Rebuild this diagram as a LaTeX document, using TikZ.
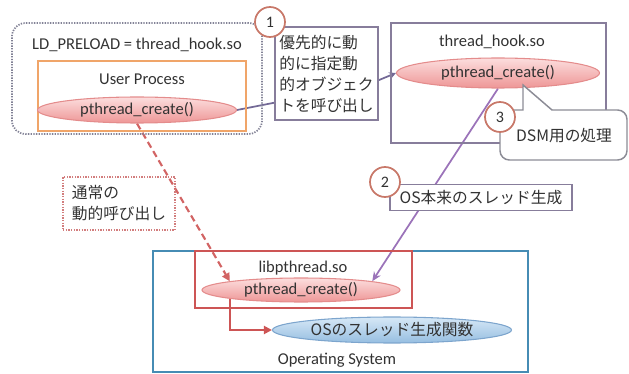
\documentclass[tikz,border=0pt]{standalone}
\usepackage{fontspec}
\setmainfont{Carlito}
\newfontfamily\jp{Noto Sans CJK JP}
\usetikzlibrary{fit,backgrounds,arrows.meta,calc,shapes.geometric}

\definecolor{txt}{RGB}{50,50,50}
\definecolor{dotgray}{RGB}{130,130,150}
\definecolor{orangeb}{RGB}{240,165,105}
\definecolor{purpgray}{RGB}{135,125,155}
\definecolor{pinkline}{RGB}{228,140,140}
\definecolor{pinktop}{RGB}{252,222,222}
\definecolor{pinkbot}{RGB}{238,150,150}
\definecolor{circc}{RGB}{200,120,105}
\definecolor{linkc}{RGB}{115,105,150}
\definecolor{purpl}{RGB}{155,115,185}
\definecolor{reddash}{RGB}{210,100,100}
\definecolor{redbox}{RGB}{205,85,85}
\definecolor{bluebox}{RGB}{70,140,180}
\definecolor{blueline}{RGB}{125,165,205}
\definecolor{bluetop}{RGB}{215,232,246}
\definecolor{bluebot}{RGB}{150,190,225}
\definecolor{callg}{RGB}{140,140,150}
\definecolor{dotred}{RGB}{210,125,125}

\begin{document}
\begin{tikzpicture}[x=0.75pt,y=-0.75pt,
  lat/.style={font=\fontsize{12.4}{15}\selectfont, text=txt},
  jps/.style={font=\jp\fontsize{11.8}{15.75}\selectfont, text=txt},
  fitbox/.style={inner sep=0pt, line width=1.1pt},
  pell/.style={ellipse, draw=pinkline, line width=0.8pt, top color=pinktop, bottom color=pinkbot, inner sep=0pt, lat},
  bell/.style={ellipse, draw=blueline, line width=0.8pt, top color=bluetop, bottom color=bluebot, inner sep=0pt, jps},
  numc/.style={circle, draw=circc, line width=1.3pt, fill=white, minimum size=22.5pt, inner sep=0pt, font=\fontsize{12}{12}\selectfont, text=txt},
  tbox/.style={draw=purpgray, line width=1.1pt, fill=white, inner sep=0pt, jps},
  linkline/.style={draw=linkc, line width=1.3pt},
  purpline/.style={draw=purpl, line width=1.3pt},
  dashline/.style={draw=reddash, line width=1.6pt, dash pattern=on 5pt off 3pt},
  redline/.style={draw=redbox, line width=1.5pt}
]
\useasboundingbox (0,0) rectangle (629,374);

% upper left group
\node[fitbox, draw=dotgray, rounded corners=10pt, line width=1.3pt, dash pattern=on 1pt off 1pt, fit={(12,23) (262,134)}] (outer) {};
\node[lat] (ld) at (137,45) {LD\_PRELOAD = thread\_hook.so};
\node[fitbox, draw=orangeb, fit={(38,61) (246,131)}] (ubox) {};
\node[lat] (utext) at (142,79) {User Process};
\node[pell, minimum width=149.25pt, minimum height=19.5pt] (uell) at (137,110) {pthread\_create()};

% label box 1
\node[tbox, minimum width=77.25pt, minimum height=69.75pt, align=left] (box1) at (326.5,73.5) {優先的に動\\的に指定動\\的オブジェク\\トを呼び出し};

% thread_hook.so
\node[fitbox, draw=purpgray, fit={(391,23) (606,143)}] (hbox) {};
\node[lat] (htext) at (492,42) {thread\_hook.so};
\node[pell, minimum width=152.25pt, minimum height=22.5pt] (hell) at (498,73) {pthread\_create()};

% callout
\draw[draw=callg, line width=1.1pt, fill=white]
  (500,135) [rounded corners=7pt] -- (500,110) [sharp corners] -- (523,110) -- (523,85) -- (552,110)
  [rounded corners=7pt] -- (627,110) -- (627,160) -- (500,160) -- cycle;
\node[jps] (dsm) at (564,136) {DSM用の処理};

% label box 2
\node[tbox, minimum width=136.5pt, minimum height=19.5pt] (box2) at (481,197.5) {OS本来のスレッド生成};

% normal call box
\node[draw=dotred, line width=1.2pt, dash pattern=on 1pt off 1pt, inner sep=0pt, jps, align=left, minimum width=84pt, minimum height=39.75pt] (tsj) at (119,203.5) {通常の\\動的呼び出し};

% operating system
\node[fitbox, draw=bluebox, line width=1.3pt, fit={(153,251) (528,372)}] (osbox) {};
\node[fitbox, draw=redbox, line width=1.3pt, fit={(195,251) (412,308)}] (libbox) {};
\node[lat] (libtext) at (303,268) {libpthread.so};
\node[pell, minimum width=148.5pt, minimum height=18pt] (lib) at (301,290) {pthread\_create()};
\node[bell, minimum width=179.25pt, minimum height=19.5pt] (osell) at (392,330) {OSのスレッド生成関数};
\node[lat] (ostext) at (337,360) {Operating System};

% number circles
\node[numc] (c1) at (270,22) {1};
\node[numc] (c3) at (500,117) {3};
\node[numc] (c2) at (385,182) {2};

% connectors
\begin{pgfonlayer}{background}
\draw[linkline] (uell.east) -- ([yshift=13.5pt]box1.south west);
\draw[linkline, -{Stealth[length=5pt,width=5pt]}] ([yshift=-5pt]box1.east) -- (hell.west);
\draw[purpline, -{Stealth[length=7pt,width=6pt]}] (hell.south) -- (lib.7);
\draw[dashline, -{Triangle[length=6pt,width=6pt]}] (uell.south) -- (lib.173);
\draw[redline, -{Triangle[length=6pt,width=6pt]}] (lib.187) |- (osell.west);
\end{pgfonlayer}
\end{tikzpicture}
\end{document}
